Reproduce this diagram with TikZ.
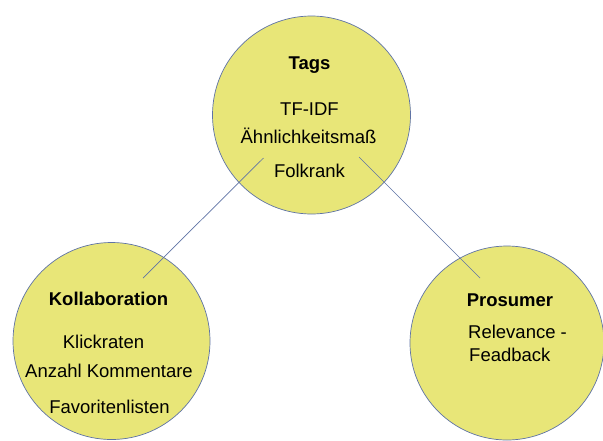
\documentclass[tikz,border=0pt]{standalone}
\usepackage{fontspec}
\setmainfont{Liberation Sans}
\definecolor{circfill}{RGB}{232,230,120}
\definecolor{edgeblue}{RGB}{95,115,165}
\begin{document}
\begin{tikzpicture}[x=1pt,y=-1pt,
  circ/.style={circle,draw=edgeblue,line width=0.7pt,fill=circfill,minimum size=198pt,inner sep=0pt},
  link/.style={draw=edgeblue,line width=0.7pt},
  lbl/.style={anchor=base,inner sep=0pt,font=\fontsize{18.5}{22}\selectfont},
  ttl/.style={lbl,font=\fontsize{18.5}{22}\selectfont\bfseries}]
\useasboundingbox (0,0) rectangle (603,440);
\fill[white] (0,0) rectangle (603,440);
\node[circ] (tags) at (311.5,115) {};
\node[circ,minimum size=197pt] (koll) at (111.5,341) {};
\node[circ,minimum size=194pt] (pros) at (507,343) {};
\coordinate (l1) at ([shift={(-48,43)}]tags.center);
\coordinate (l2) at ([shift={(31.5,-63)}]koll.center);
\coordinate (r1) at ([shift={(47.5,42)}]tags.center);
\coordinate (r2) at ([shift={(-27,-65)}]pros.center);
\draw[link] (l1) -- (l2);
\draw[link] (r1) -- (r2);
\node[ttl] (t0) at (309.5,69) {Tags};
\node[lbl] (t1) at (309.5,115) {TF-IDF};
\node[lbl] (t2) at (308.5,143) {Ähnlichkeitsmaß};
\node[lbl] (t3) at (309.5,177) {Folkrank};
\node[ttl] (k0) at (108.5,305) {Kollaboration};
\node[lbl] (k1) at (103.5,348) {Klickraten};
\node[lbl] (k2) at (109,377) {Anzahl Kommentare};
\node[lbl] (k3) at (109.5,413) {Favoritenlisten};
\node[ttl] (p0) at (510,306) {Prosumer};
\node[lbl,anchor=base west] (p1) at (468,338) {Relevance -};
\node[lbl,anchor=base west] (p2) at (469,361) {Feadback};
\end{tikzpicture}
\end{document}
